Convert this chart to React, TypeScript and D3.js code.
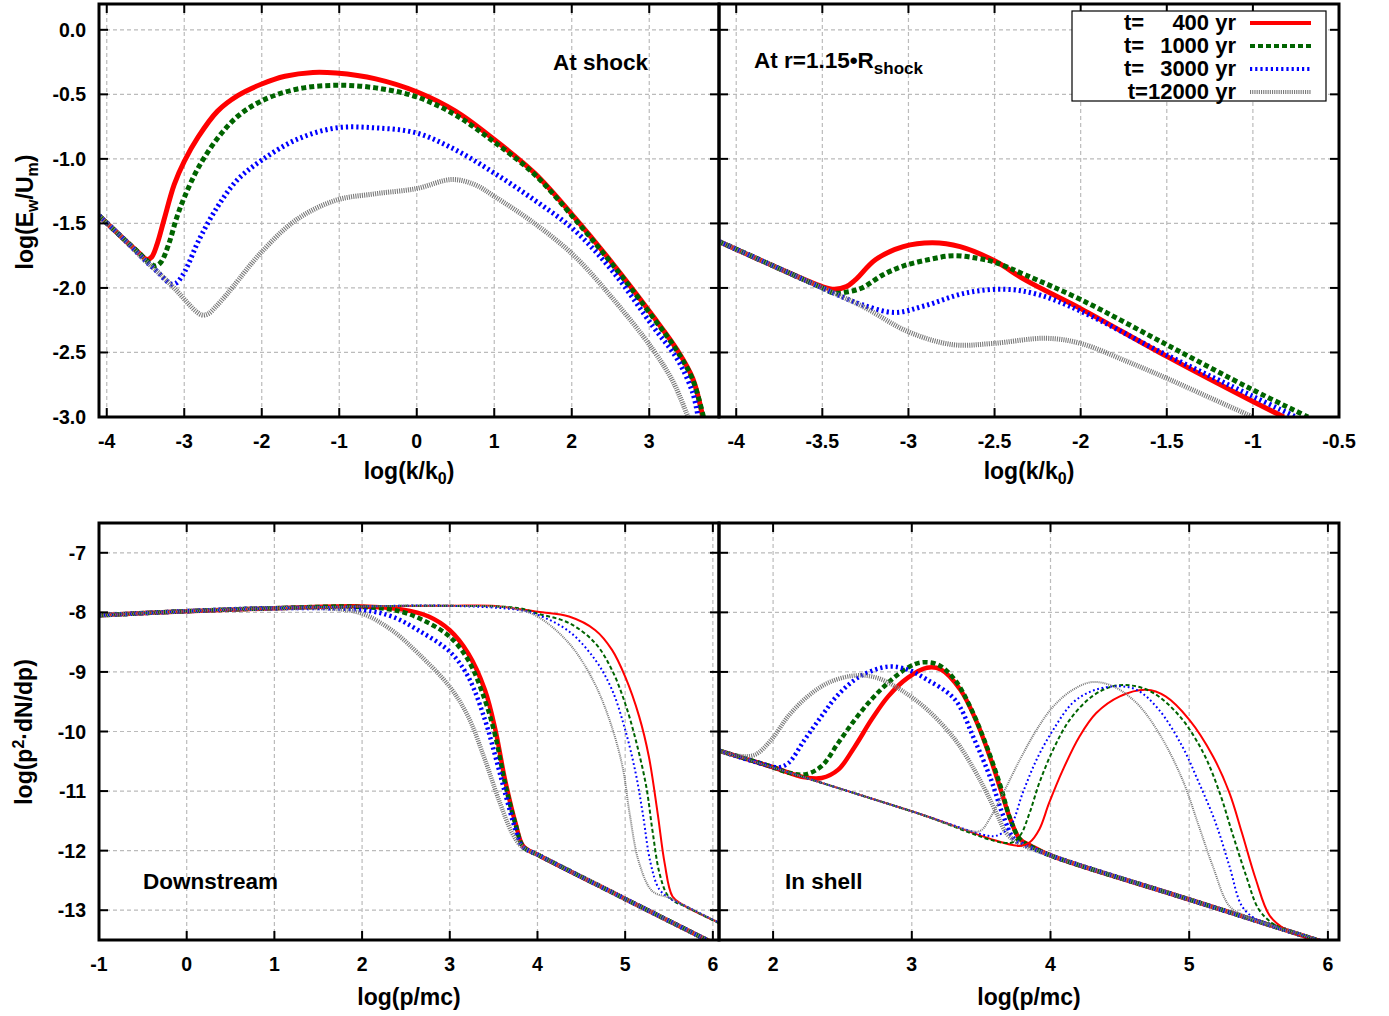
import React from 'react';
import * as d3 from 'd3';

type Pt = [number, number];

// ---- top-left: wave energy at the shock, log(k/k0) vs log(Ew/Um)
const shockT400: Pt[] = [[-4.1, -1.44], [-3.8, -1.61], [-3.6, -1.72], [-3.48, -1.78], [-3.42, -1.76], [-3.35, -1.66], [-3.26, -1.47], [-3.13, -1.2], [-3.0, -1.02], [-2.82, -0.83], [-2.57, -0.63], [-2.31, -0.51], [-2.0, -0.42], [-1.7, -0.36], [-1.34, -0.33], [-1.04, -0.335], [-0.53, -0.38], [0, -0.48], [0.5, -0.63], [1.0, -0.85], [1.52, -1.11], [2.03, -1.45], [2.54, -1.82], [3.05, -2.22], [3.36, -2.48], [3.56, -2.7], [3.69, -3.0]];
const shockT1000: Pt[] = [[-4.1, -1.44], [-3.8, -1.61], [-3.6, -1.72], [-3.44, -1.81], [-3.37, -1.83], [-3.3, -1.8], [-3.2, -1.66], [-3.1, -1.46], [-3.0, -1.3], [-2.82, -1.07], [-2.57, -0.84], [-2.31, -0.67], [-2.0, -0.55], [-1.55, -0.46], [-1.04, -0.43], [-0.53, -0.45], [0, -0.52], [0.5, -0.66], [1.0, -0.87], [1.52, -1.12], [2.03, -1.46], [2.54, -1.83], [3.05, -2.23], [3.36, -2.49], [3.56, -2.71], [3.7, -3.0]];
const shockT3000: Pt[] = [[-4.1, -1.44], [-3.8, -1.61], [-3.5, -1.79], [-3.32, -1.89], [-3.24, -1.94], [-3.17, -1.97], [-3.1, -1.96], [-3.03, -1.91], [-2.95, -1.82], [-2.82, -1.64], [-2.57, -1.37], [-2.31, -1.16], [-2.0, -1.01], [-1.55, -0.85], [-1.04, -0.76], [-0.53, -0.76], [0, -0.8], [0.5, -0.93], [1.0, -1.11], [1.52, -1.32], [2.03, -1.55], [2.54, -1.88], [3.05, -2.3], [3.36, -2.55], [3.56, -2.81], [3.63, -3.0]];
const shockT12000: Pt[] = [[-4.1, -1.44], [-3.8, -1.61], [-3.5, -1.79], [-3.3, -1.9], [-3.1, -2.02], [-2.95, -2.12], [-2.85, -2.18], [-2.77, -2.21], [-2.69, -2.2], [-2.6, -2.15], [-2.48, -2.07], [-2.37, -1.99], [-2.0, -1.72], [-1.55, -1.47], [-1.04, -1.32], [-0.53, -1.27], [0, -1.23], [0.45, -1.16], [0.75, -1.2], [1.0, -1.29], [1.52, -1.5], [2.03, -1.75], [2.54, -2.09], [3.05, -2.48], [3.31, -2.73], [3.5, -3.0]];

// ---- top-right: at r = 1.15 R_shock
const aheadT400: Pt[] = [[-4.1, -1.64], [-3.8, -1.82], [-3.5, -1.99], [-3.43, -2.01], [-3.36, -1.99], [-3.31, -1.94], [-3.19, -1.78], [-3.03, -1.68], [-2.86, -1.65], [-2.7, -1.68], [-2.5, -1.79], [-2.32, -1.94], [-2.0, -2.16], [-1.5, -2.53], [-1.0, -2.88], [-0.82, -3.0]];
const aheadT1000: Pt[] = [[-4.1, -1.64], [-3.8, -1.82], [-3.5, -2.0], [-3.43, -2.04], [-3.35, -2.03], [-3.27, -2.0], [-3.15, -1.9], [-3.03, -1.83], [-2.88, -1.78], [-2.74, -1.75], [-2.6, -1.77], [-2.5, -1.8], [-2.32, -1.9], [-2.0, -2.09], [-1.5, -2.44], [-1.0, -2.79], [-0.68, -3.0]];
const aheadT3000: Pt[] = [[-4.1, -1.64], [-3.8, -1.82], [-3.5, -2.0], [-3.4, -2.06], [-3.27, -2.13], [-3.08, -2.19], [-2.91, -2.14], [-2.67, -2.04], [-2.44, -2.01], [-2.25, -2.05], [-2.0, -2.18], [-1.5, -2.52], [-1.0, -2.84], [-0.75, -3.0]];
const aheadT12000: Pt[] = [[-4.1, -1.64], [-3.8, -1.82], [-3.5, -2.0], [-3.27, -2.14], [-3.0, -2.34], [-2.74, -2.44], [-2.51, -2.43], [-2.2, -2.39], [-2.0, -2.43], [-1.73, -2.57], [-1.5, -2.7], [-1.25, -2.85], [-1.0, -3.0]];

// ---- bottom-left: downstream spectra, thick and thin families
const downThickT400: Pt[] = [[-1, -8.05], [0, -7.98], [1, -7.93], [2, -7.9], [2.45, -7.95], [2.76, -8.07], [3.0, -8.3], [3.21, -8.69], [3.4, -9.3], [3.52, -9.97], [3.63, -10.81], [3.75, -11.54], [3.84, -11.93], [4.02, -12.08], [5, -12.81], [6, -13.55]];
const downThickT1000: Pt[] = [[-1, -8.05], [0, -7.98], [1, -7.93], [2, -7.91], [2.45, -7.99], [2.76, -8.18], [3.0, -8.41], [3.21, -8.8], [3.4, -9.47], [3.52, -10.08], [3.63, -10.87], [3.75, -11.56], [3.84, -11.94], [4.02, -12.08], [5, -12.81], [6, -13.55]];
const downThickT3000: Pt[] = [[-1, -8.05], [0, -7.98], [1, -7.93], [2, -7.96], [2.34, -8.07], [2.64, -8.3], [3.0, -8.66], [3.21, -9.08], [3.4, -9.8], [3.52, -10.42], [3.63, -11.03], [3.75, -11.65], [3.83, -11.93], [4.02, -12.08], [5, -12.81], [6, -13.55]];
const downThickT12000: Pt[] = [[-1, -8.05], [0, -7.98], [1, -7.93], [1.69, -7.94], [2, -8.02], [2.34, -8.3], [2.64, -8.69], [3.0, -9.25], [3.21, -9.75], [3.4, -10.47], [3.56, -11.15], [3.71, -11.7], [3.82, -11.93], [4.02, -12.08], [5, -12.81], [6, -13.55]];
const downThinT400: Pt[] = [[-1, -8.05], [0, -7.98], [1, -7.93], [2, -7.9], [3, -7.89], [3.48, -7.89], [4.0, -7.99], [4.36, -8.07], [4.66, -8.3], [4.85, -8.63], [5.0, -9.08], [5.16, -9.75], [5.27, -10.42], [5.37, -11.37], [5.45, -12.21], [5.54, -12.77], [5.66, -12.91], [6.07, -13.21]];
const downThinT1000: Pt[] = [[-1, -8.05], [0, -7.98], [1, -7.93], [2, -7.9], [3, -7.89], [3.79, -7.93], [4.0, -8.02], [4.36, -8.18], [4.66, -8.52], [4.85, -8.97], [5.0, -9.53], [5.12, -10.14], [5.24, -10.92], [5.31, -11.65], [5.39, -12.37], [5.48, -12.74], [5.58, -12.87], [5.66, -12.92], [6.07, -13.22]];
const downThinT3000: Pt[] = [[-1, -8.05], [0, -7.98], [1, -7.93], [2, -7.9], [3, -7.89], [3.79, -7.96], [4.0, -8.04], [4.36, -8.32], [4.66, -8.8], [4.85, -9.3], [5.0, -9.97], [5.12, -10.7], [5.2, -11.37], [5.29, -12.21], [5.39, -12.65], [5.52, -12.81], [5.66, -12.91], [6.07, -13.21]];
const downThinT12000: Pt[] = [[-1, -8.05], [0, -7.98], [1, -7.93], [2, -7.9], [3, -7.89], [3.71, -7.93], [4.0, -8.07], [4.36, -8.52], [4.63, -9.13], [4.82, -9.8], [4.97, -10.59], [5.05, -11.37], [5.16, -12.21], [5.31, -12.68], [5.5, -12.79], [5.66, -12.91], [6.07, -13.21]];

// ---- bottom-right: in shell
const shellThickT400: Pt[] = [[1.61, -10.32], [2.0, -10.6], [2.23, -10.77], [2.35, -10.78], [2.47, -10.64], [2.59, -10.25], [2.71, -9.8], [2.83, -9.41], [2.97, -9.1], [3.11, -8.93], [3.21, -8.96], [3.35, -9.3], [3.47, -9.85], [3.57, -10.47], [3.64, -10.97], [3.71, -11.47], [3.78, -11.81], [3.86, -11.92], [4.0, -12.08], [5, -12.82], [6, -13.56]];
const shellThickT1000: Pt[] = [[1.61, -10.32], [2.0, -10.6], [2.11, -10.69], [2.23, -10.72], [2.35, -10.58], [2.47, -10.19], [2.59, -9.8], [2.71, -9.46], [2.83, -9.18], [2.97, -8.93], [3.07, -8.84], [3.19, -8.88], [3.31, -9.13], [3.43, -9.63], [3.54, -10.25], [3.64, -10.92], [3.71, -11.47], [3.78, -11.81], [3.86, -11.93], [4.0, -12.08], [5, -12.82], [6, -13.56]];
const shellThickT3000: Pt[] = [[1.61, -10.32], [1.9, -10.53], [2.04, -10.6], [2.11, -10.53], [2.23, -10.13], [2.35, -9.74], [2.47, -9.38], [2.63, -9.07], [2.83, -8.91], [2.97, -8.96], [3.11, -9.13], [3.31, -9.46], [3.45, -10.13], [3.57, -10.8], [3.66, -11.42], [3.74, -11.81], [3.84, -11.93], [4.0, -12.08], [5, -12.82], [6, -13.56]];
const shellThickT12000: Pt[] = [[1.61, -10.32], [1.75, -10.41], [1.87, -10.39], [1.99, -10.13], [2.11, -9.74], [2.25, -9.41], [2.4, -9.18], [2.59, -9.06], [2.75, -9.1], [2.92, -9.3], [3.11, -9.63], [3.31, -10.13], [3.45, -10.64], [3.54, -11.03], [3.62, -11.42], [3.68, -11.7], [3.76, -11.86], [4.0, -12.08], [5, -12.82], [6, -13.56]];
const shellThinT400: Pt[] = [[1.61, -10.32], [3, -11.34], [3.78, -11.92], [3.85, -11.86], [3.92, -11.64], [3.99, -11.2], [4.09, -10.64], [4.21, -10.08], [4.33, -9.69], [4.5, -9.41], [4.69, -9.3], [4.83, -9.41], [5.0, -9.8], [5.17, -10.41], [5.29, -11.03], [5.38, -11.7], [5.48, -12.48], [5.58, -13.09], [5.7, -13.33], [6, -13.56]];
const shellThinT1000: Pt[] = [[1.61, -10.32], [3, -11.34], [3.71, -11.87], [3.78, -11.75], [3.85, -11.36], [3.92, -10.86], [4.02, -10.3], [4.14, -9.8], [4.3, -9.41], [4.45, -9.24], [4.59, -9.23], [4.74, -9.35], [4.93, -9.74], [5.1, -10.35], [5.22, -11.03], [5.31, -11.7], [5.41, -12.42], [5.5, -12.98], [5.6, -13.22], [5.7, -13.33], [6, -13.56]];
const shellThinT3000: Pt[] = [[1.61, -10.32], [3, -11.34], [3.55, -11.75], [3.61, -11.75], [3.71, -11.59], [3.8, -11.03], [3.9, -10.47], [4.02, -9.97], [4.16, -9.52], [4.3, -9.32], [4.47, -9.24], [4.62, -9.3], [4.78, -9.63], [4.95, -10.25], [5.07, -10.86], [5.19, -11.53], [5.29, -12.26], [5.38, -12.93], [5.48, -13.15], [5.6, -13.26], [6, -13.56]];
const shellThinT12000: Pt[] = [[1.61, -10.32], [3, -11.34], [3.45, -11.68], [3.5, -11.66], [3.56, -11.47], [3.66, -11.03], [3.78, -10.47], [3.9, -9.97], [4.02, -9.58], [4.16, -9.3], [4.3, -9.17], [4.45, -9.24], [4.62, -9.52], [4.78, -10.02], [4.95, -10.8], [5.07, -11.59], [5.17, -12.26], [5.29, -12.93], [5.41, -13.1], [5.5, -13.18], [6, -13.56]];

const ages = ['400', '1000', '3000', '12000'];

const ticksTopLeftX = [-4, -3, -2, -1, 0, 1, 2, 3];
const ticksTopRightX = [-4, -3.5, -3, -2.5, -2, -1.5, -1, -0.5];
const ticksTopY = [0, -0.5, -1, -1.5, -2, -2.5, -3];
const ticksBotLeftX = [-1, 0, 1, 2, 3, 4, 5, 6];
const ticksBotRightX = [2, 3, 4, 5, 6];
const ticksBotY = [-7, -8, -9, -10, -11, -12, -13];

const FONT = '"Liberation Sans", Arial, Helvetica, sans-serif';

// gnuplot-ish line types: red solid, green dashed, blue dotted, grey hatched
const lineTypes = [
  { color: '#ff0000', dash: undefined as string | undefined },
  { color: '#006400', dash: '5,3' },
  { color: '#0000ff', dash: '2.2,3' },
  { color: '#7a7a7a', dash: '1.1,1.1' },
];

type Group = { series: Pt[][]; width: number; thinDash?: boolean };

type PanelProps = {
  id: string;
  left: number;
  top: number;
  width: number;
  height: number;
  xDomain: [number, number];
  yDomain: [number, number];
  xTicks: number[];
  yTicks: number[];
  yFmt?: (v: number) => string;
  showYLabels: boolean;
  groups: Group[];
};

const Panel = ({ id, left, top, width, height, xDomain, yDomain, xTicks, yTicks, yFmt, showYLabels, groups }: PanelProps) => {
  const x = d3.scaleLinear().domain(xDomain).range([left, left + width]);
  const y = d3.scaleLinear().domain(yDomain).range([top + height, top]);
  const line = d3.line<Pt>().x(d => x(d[0])).y(d => y(d[1])).curve(d3.curveCatmullRom.alpha(0.5));
  const bottom = top + height;
  const right = left + width;
  const inside = (px: number, a: number, b: number) => px > a + 2 && px < b - 2;
  const tl = 9;

  return (
    <g>
      <defs>
        <clipPath id={id}>
          <rect x={left} y={top} width={width} height={height} />
        </clipPath>
      </defs>
      {/* grid */}
      {xTicks.filter(v => inside(x(v), left, right)).map(v => (
        <line key={'gx' + v} x1={x(v)} x2={x(v)} y1={top} y2={bottom} stroke="#bbbbbb" strokeWidth={1.2} strokeDasharray="4,3" />
      ))}
      {yTicks.filter(v => inside(y(v), top, bottom)).map(v => (
        <line key={'gy' + v} x1={left} x2={right} y1={y(v)} y2={y(v)} stroke="#bbbbbb" strokeWidth={1.2} strokeDasharray="4,3" />
      ))}
      {/* curves */}
      <g clipPath={`url(#${id})`}>
        {groups.map((g, gi) =>
          g.series.map((s, i) => {
            const lt = lineTypes[i];
            let dash = lt.dash;
            if (g.thinDash && dash) dash = i === 1 ? '4,2.5' : i === 2 ? '1.8,2.6' : '1,1';
            return (
              <path key={gi + '-' + i} d={line(s) || ''} fill="none" stroke={lt.color} strokeWidth={g.width} strokeDasharray={dash} strokeLinejoin="round" />
            );
          })
        )}
      </g>
      {/* ticks */}
      {xTicks.map(v => (
        <g key={'tx' + v}>
          <line x1={x(v)} x2={x(v)} y1={bottom} y2={bottom - tl} stroke="#000" strokeWidth={2} />
          <line x1={x(v)} x2={x(v)} y1={top} y2={top + tl} stroke="#000" strokeWidth={2} />
          <text x={x(v)} y={bottom + 31} textAnchor="middle" fontSize={19.5} fontWeight="bold" fontFamily={FONT}>{String(v)}</text>
        </g>
      ))}
      {yTicks.map(v => (
        <g key={'ty' + v}>
          <line x1={left} x2={left + tl} y1={y(v)} y2={y(v)} stroke="#000" strokeWidth={2} />
          <line x1={right} x2={right - tl} y1={y(v)} y2={y(v)} stroke="#000" strokeWidth={2} />
          {showYLabels && (
            <text x={left - 13} y={y(v) + 7} textAnchor="end" fontSize={19.5} fontWeight="bold" fontFamily={FONT}>{yFmt ? yFmt(v) : String(v)}</text>
          )}
        </g>
      ))}
      <rect x={left} y={top} width={width} height={height} fill="none" stroke="#000" strokeWidth={3} />
    </g>
  );
};

const App = () => {
  const W = 1389;
  const H = 1016;
  const fmt1 = (v: number) => v.toFixed(1);
  const legendRows = [23, 46, 69, 92];

  return (
    <div style={{ position: 'absolute', left: 0, top: 0 }}>
      <svg width={W} height={H} style={{ display: 'block', background: '#fff' }}>
        <Panel id="clipTL" left={99} top={4} width={620} height={413} xDomain={[-4.1, 3.9]} yDomain={[-3, 0.2]}
          xTicks={ticksTopLeftX} yTicks={ticksTopY} yFmt={fmt1} showYLabels
          groups={[{ series: [shockT400, shockT1000, shockT3000, shockT12000], width: 5 }]} />
        <Panel id="clipTR" left={719} top={4} width={620} height={413} xDomain={[-4.1, -0.5]} yDomain={[-3, 0.2]}
          xTicks={ticksTopRightX} yTicks={ticksTopY} showYLabels={false}
          groups={[{ series: [aheadT400, aheadT1000, aheadT3000, aheadT12000], width: 5 }]} />
        <Panel id="clipBL" left={99} top={523} width={620} height={417} xDomain={[-1, 6.07]} yDomain={[-13.5, -6.5]}
          xTicks={ticksBotLeftX} yTicks={ticksBotY} showYLabels
          groups={[
            { series: [downThickT400, downThickT1000, downThickT3000, downThickT12000], width: 4.5 },
            { series: [downThinT400, downThinT1000, downThinT3000, downThinT12000], width: 2, thinDash: true },
          ]} />
        <Panel id="clipBR" left={719} top={523} width={620} height={417} xDomain={[1.61, 6.08]} yDomain={[-13.5, -6.5]}
          xTicks={ticksBotRightX} yTicks={ticksBotY} showYLabels={false}
          groups={[
            { series: [shellThickT400, shellThickT1000, shellThickT3000, shellThickT12000], width: 4.5 },
            { series: [shellThinT400, shellThinT1000, shellThinT3000, shellThinT12000], width: 2, thinDash: true },
          ]} />

        {/* panel captions */}
        <g fontFamily={FONT} fontWeight="bold" fontSize={22.5}>
          <text x={553} y={70}>At shock</text>
          <text x={754} y={68}>At r=1.15•R<tspan dy={6} fontSize={17}>shock</tspan></text>
          <text x={143} y={889}>Downstream</text>
          <text x={785} y={889}>In shell</text>
        </g>

        {/* axis titles */}
        <g fontFamily={FONT} fontWeight="bold" fontSize={23}>
          <text x={409} y={479} textAnchor="middle">log(k/k<tspan dy={5} fontSize={16}>0</tspan><tspan dy={-5}>)</tspan></text>
          <text x={1029} y={479} textAnchor="middle">log(k/k<tspan dy={5} fontSize={16}>0</tspan><tspan dy={-5}>)</tspan></text>
          <text x={409} y={1005} textAnchor="middle">log(p/mc)</text>
          <text x={1029} y={1005} textAnchor="middle">log(p/mc)</text>
          <text transform="translate(33,212) rotate(-90)" textAnchor="middle">log(E<tspan dy={5} fontSize={16}>w</tspan><tspan dy={-5}>/U</tspan><tspan dy={5} fontSize={16}>m</tspan><tspan dy={-5}>)</tspan></text>
          <text transform="translate(32,732) rotate(-90)" textAnchor="middle">log(p<tspan dy={-8} fontSize={16}>2</tspan><tspan dy={8}>·dN/dp)</tspan></text>
        </g>

        {/* legend */}
        <g fontFamily={FONT} fontWeight="bold" fontSize={22}>
          <rect x={1072} y={11} width={254} height={90} fill="#fff" stroke="#000" strokeWidth={1.2} />
          {ages.map((a, i) => {
            const ly = legendRows[i];
            const lt = lineTypes[i];
            return (
              <g key={a}>
                {a.length < 5 && <text x={1124} y={ly + 7}>t=</text>}
                <text x={1236} y={ly + 7} textAnchor="end">{a.length < 5 ? `${a} yr` : `t=${a} yr`}</text>
                <line x1={1250} x2={1311} y1={ly} y2={ly} stroke={lt.color} strokeWidth={4} strokeDasharray={lt.dash} />
              </g>
            );
          })}
        </g>
      </svg>
    </div>
  );
};

export default App;
